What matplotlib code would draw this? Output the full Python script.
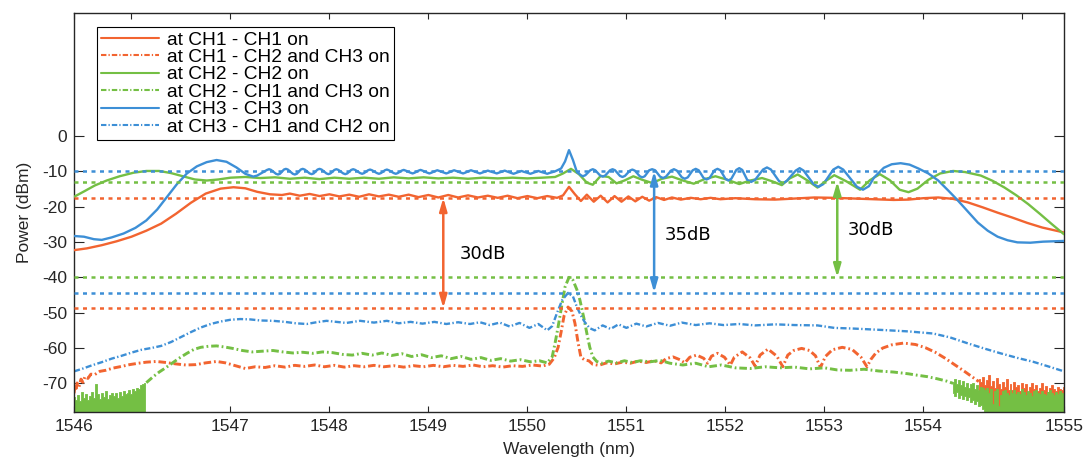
import numpy as np
import matplotlib
matplotlib.use("Agg")
import matplotlib.pyplot as plt

# ── colours / limits ──────────────────────────────────────────────────
ORANGE = "#F26430"
GREEN = "#74BF44"
BLUE = "#3D8FD6"
TEXT = "#262626"

X_LIMITS = (1545.42, 1555.42)
Y_LIMITS = (-78.1, 34.8)
WAVE_TICKS = [1547, 1548, 1549, 1550, 1551, 1552, 1553, 1554]
POWER_TICKS = [-70, -60, -50, -40, -30, -20, -10, 0]

# ── CH1: filter output with only CH1 on ───────────────────────────────
ch1_on_x = [
    1545.42, 1545.55, 1545.70, 1545.85, 1546.00, 1546.15, 1546.30, 1546.45,
    1546.60, 1546.75, 1546.90, 1547.03, 1547.15, 1547.27, 1547.40, 1547.52,
    1547.60, 1547.70, 1547.80, 1547.90, 1548.00, 1548.10, 1548.20, 1548.30,
    1548.40, 1548.50, 1548.60, 1548.70, 1548.80, 1548.90, 1549.00, 1549.10,
    1549.20, 1549.30, 1549.40, 1549.50, 1549.60, 1549.70, 1549.80, 1549.90,
    1550.00, 1550.10, 1550.20, 1550.30, 1550.36, 1550.42, 1550.48, 1550.54,
    1550.60, 1550.67, 1550.74, 1550.81, 1550.88, 1550.95, 1551.02, 1551.09,
    1551.16, 1551.23, 1551.30, 1551.38, 1551.46, 1551.55, 1551.65, 1551.75,
    1551.85, 1551.95, 1552.10, 1552.30, 1552.50, 1552.70, 1552.90, 1553.10,
    1553.30, 1553.50, 1553.70, 1553.85, 1554.00, 1554.15, 1554.30, 1554.45,
    1554.60, 1554.75, 1554.90, 1555.05, 1555.20, 1555.42,
]
ch1_on_db = [
    -32.3, -31.8, -30.9, -29.8, -28.5, -26.8, -24.8, -22.0,
    -18.9, -16.3, -14.9, -14.5, -14.8, -15.8, -16.5, -16.7,
    -16.3, -16.9, -16.4, -17.0, -16.5, -17.1, -16.6, -17.2,
    -16.5, -17.1, -16.6, -17.2, -16.6, -17.3, -16.7, -17.4,
    -16.7, -17.4, -16.8, -17.4, -16.9, -17.5, -16.9, -17.6,
    -17.0, -17.6, -17.0, -17.5, -16.8, -14.4, -16.5, -18.4,
    -16.6, -18.6, -16.9, -18.8, -17.0, -18.6, -17.1, -18.5,
    -17.2, -18.3, -17.3, -18.1, -17.4, -18.0, -17.5, -17.9,
    -17.5, -17.9, -17.6, -17.9, -18.0, -17.7, -17.4, -17.5,
    -17.7, -17.9, -18.1, -18.0, -17.6, -17.4, -17.8, -18.8,
    -20.2, -21.7, -23.1, -24.6, -25.9, -27.3,
]

# ── CH1: crosstalk with CH2 and CH3 on ────────────────────────────────
ch1_xt_x = [
    1545.42, 1545.43, 1545.44, 1545.45, 1545.47, 1545.49, 1545.51, 1545.53,
    1545.56, 1545.59, 1545.63, 1545.68, 1545.74, 1545.81, 1545.90, 1545.98,
    1546.07, 1546.15, 1546.25, 1546.35, 1546.45, 1546.55, 1546.65, 1546.75,
    1546.86, 1546.95, 1547.05, 1547.15, 1547.25, 1547.35, 1547.45, 1547.55,
    1547.65, 1547.75, 1547.85, 1547.95, 1548.05, 1548.15, 1548.25, 1548.35,
    1548.45, 1548.55, 1548.65, 1548.75, 1548.85, 1548.95, 1549.05, 1549.15,
    1549.25, 1549.35, 1549.45, 1549.55, 1549.65, 1549.75, 1549.85, 1549.95,
    1550.05, 1550.15, 1550.22, 1550.27, 1550.31, 1550.34, 1550.37, 1550.41,
    1550.45, 1550.48, 1550.51, 1550.54, 1550.58, 1550.62, 1550.66, 1550.72,
    1550.80, 1550.88, 1550.96, 1551.04, 1551.12, 1551.20, 1551.28, 1551.35,
    1551.40, 1551.47, 1551.54, 1551.59, 1551.64, 1551.71, 1551.78, 1551.82,
    1551.86, 1551.92, 1551.99, 1552.05, 1552.09, 1552.17, 1552.25, 1552.30,
    1552.35, 1552.43, 1552.52, 1552.58, 1552.63, 1552.69, 1552.77, 1552.85,
    1552.91, 1552.96, 1553.01, 1553.08, 1553.18, 1553.28, 1553.37, 1553.43,
    1553.47, 1553.52, 1553.59, 1553.68, 1553.80, 1553.92, 1554.02, 1554.12,
    1554.22, 1554.32, 1554.42, 1554.50, 1554.56,
]
ch1_xt_db = [
    -72.8, -70.6, -72.1, -69.9, -71.0, -68.8, -69.7, -68.1,
    -68.6, -67.4, -67.5, -66.6, -66.3, -65.7, -65.2, -64.7,
    -64.3, -64.0, -63.8, -64.1, -64.5, -64.8, -64.7, -64.2,
    -63.8, -64.2, -65.0, -65.8, -65.3, -65.5, -65.0, -65.4,
    -64.9, -65.2, -64.8, -65.3, -64.9, -65.4, -65.0, -65.3,
    -64.9, -65.3, -65.0, -65.4, -65.0, -65.3, -64.9, -65.3,
    -64.9, -65.2, -64.8, -65.3, -65.0, -65.4, -65.0, -65.2,
    -64.8, -65.1, -64.6, -62.8, -59.8, -55.5, -50.9, -48.4,
    -49.6, -53.0, -58.2, -62.6, -63.4, -63.6, -64.6, -64.9,
    -64.2, -64.5, -64.0, -64.3, -63.7, -64.1, -63.6, -64.2,
    -63.0, -62.5, -63.3, -64.2, -62.6, -62.0, -62.9, -64.3,
    -62.3, -61.5, -62.6, -64.8, -62.6, -61.1, -62.8, -65.1,
    -62.0, -60.3, -62.3, -65.3, -62.0, -60.7, -60.1, -60.7,
    -62.2, -65.5, -62.4, -60.5, -59.8, -60.4, -62.6, -65.3,
    -63.2, -61.4, -60.0, -59.1, -58.6, -59.0, -59.9, -61.2,
    -62.9, -64.8, -66.7, -68.3, -69.5,
]
# noisy tail of the CH1 crosstalk trace (per-sample min / max)
ch1_noise_span = (1554.56, 1555.42)
ch1_noise_top = [
    -68.8, -69.6, -68.2, -70.4, -69.0, -67.6, -70.8, -69.3, -71.2, -68.5,
    -70.1, -71.5, -69.7, -70.9, -68.9, -71.8, -70.3, -72.0, -69.5, -71.1,
    -70.6, -72.3, -69.9, -71.4, -70.2, -72.6, -71.0, -69.8, -71.7, -70.5,
    -72.1, -71.3, -70.0, -71.9, -70.7, -72.4, -71.2, -70.4, -71.6, -72.2,
    -70.9, -71.5, -72.0, -71.1,
]
ch1_noise_bottom = [
    -72.5, -73.4, -74.2, -75.0, -75.8, -76.9, -80.0, -77.8, -80.0, -78.5,
    -80.0, -80.0, -80.0, -80.0, -80.0, -80.0, -80.0, -80.0, -80.0, -80.0,
    -80.0, -80.0, -80.0, -80.0, -80.0, -80.0, -80.0, -80.0, -80.0, -80.0,
    -80.0, -80.0, -80.0, -80.0, -80.0, -80.0, -80.0, -80.0, -80.0, -80.0,
    -80.0, -80.0, -80.0, -80.0,
]

# ── CH2: filter output with only CH2 on ───────────────────────────────
ch2_on_x = [
    1545.42, 1545.52, 1545.63, 1545.75, 1545.88, 1546.02, 1546.15, 1546.28,
    1546.40, 1546.52, 1546.64, 1546.76, 1546.88, 1547.00, 1547.15, 1547.30,
    1547.45, 1547.60, 1547.75, 1547.90, 1548.05, 1548.20, 1548.35, 1548.50,
    1548.65, 1548.80, 1548.95, 1549.10, 1549.25, 1549.40, 1549.55, 1549.70,
    1549.85, 1550.00, 1550.15, 1550.28, 1550.36, 1550.44, 1550.52, 1550.60,
    1550.66, 1550.74, 1550.82, 1550.90, 1550.98, 1551.07, 1551.16, 1551.26,
    1551.36, 1551.46, 1551.57, 1551.68, 1551.79, 1551.90, 1552.02, 1552.14,
    1552.25, 1552.37, 1552.47, 1552.57, 1552.65, 1552.73, 1552.83, 1552.93,
    1553.02, 1553.10, 1553.22, 1553.36, 1553.46, 1553.56, 1553.66, 1553.76,
    1553.85, 1553.94, 1554.05, 1554.17, 1554.30, 1554.42, 1554.58, 1554.70,
    1554.82, 1554.94, 1555.06, 1555.18, 1555.30, 1555.42,
]
ch2_on_db = [
    -17.2, -15.7, -14.0, -12.6, -11.4, -10.4, -9.9, -9.9,
    -10.5, -11.4, -12.3, -12.6, -12.3, -11.8, -11.6, -11.9,
    -11.7, -12.1, -11.8, -12.2, -11.8, -12.1, -11.8, -12.1,
    -11.7, -12.0, -11.7, -12.0, -11.8, -12.1, -11.8, -12.0,
    -11.8, -12.0, -11.8, -11.6, -10.6, -9.3, -10.8, -13.2,
    -13.8, -11.3, -11.6, -13.4, -12.6, -11.4, -12.4, -13.3,
    -12.1, -11.5, -12.6, -13.5, -12.2, -11.4, -12.4, -13.6,
    -12.6, -11.9, -12.8, -13.9, -12.0, -10.9, -12.6, -14.6,
    -12.6, -11.1, -12.8, -15.2, -12.5, -10.8, -12.5, -15.2,
    -15.9, -14.9, -12.4, -10.6, -9.9, -10.2, -11.2, -12.7,
    -14.6, -16.8, -19.3, -22.1, -25.0, -27.8,
]

# ── CH2: crosstalk with CH1 and CH3 on ────────────────────────────────
ch2_xt_x = [
    1546.15, 1546.22, 1546.28, 1546.35, 1546.41, 1546.48, 1546.56, 1546.63,
    1546.70, 1546.78, 1546.86, 1546.94, 1547.02, 1547.12, 1547.22, 1547.32,
    1547.43, 1547.53, 1547.63, 1547.73, 1547.83, 1547.93, 1548.03, 1548.13,
    1548.23, 1548.33, 1548.43, 1548.53, 1548.63, 1548.73, 1548.83, 1548.93,
    1549.03, 1549.13, 1549.23, 1549.33, 1549.43, 1549.53, 1549.63, 1549.73,
    1549.83, 1549.93, 1550.03, 1550.12, 1550.20, 1550.25, 1550.28, 1550.31,
    1550.35, 1550.38, 1550.42, 1550.46, 1550.50, 1550.53, 1550.57, 1550.60,
    1550.63, 1550.66, 1550.70, 1550.75, 1550.82, 1550.90, 1550.98, 1551.06,
    1551.14, 1551.24, 1551.34, 1551.44, 1551.57, 1551.70, 1551.83, 1551.96,
    1552.10, 1552.25, 1552.40, 1552.55, 1552.70, 1552.85, 1553.00, 1553.13,
    1553.26, 1553.40, 1553.55, 1553.70, 1553.85, 1553.94, 1554.04, 1554.14,
    1554.24, 1554.30,
]
ch2_xt_db = [
    -69.8, -68.1, -66.8, -65.5, -64.3, -62.9, -61.5, -60.4,
    -59.8, -59.5, -59.4, -59.7, -60.1, -60.7, -61.1, -60.9,
    -60.7, -61.1, -61.4, -61.2, -61.5, -61.1, -61.3, -61.8,
    -62.0, -61.5, -62.0, -61.4, -62.1, -61.6, -62.4, -61.9,
    -62.7, -62.2, -63.0, -62.4, -63.2, -62.7, -63.5, -63.0,
    -63.7, -63.3, -63.9, -63.6, -64.2, -62.5, -58.5, -54.0,
    -47.5, -42.7, -40.0, -40.8, -43.5, -46.4, -51.5, -55.8,
    -59.8, -62.5, -63.8, -64.3, -63.7, -64.2, -63.6, -64.1,
    -63.6, -63.9, -63.5, -64.3, -64.8, -64.3, -65.3, -64.8,
    -65.6, -65.8, -65.3, -65.6, -65.4, -65.9, -65.6, -66.2,
    -66.3, -66.0, -66.5, -66.8, -67.3, -67.7, -68.1, -68.7,
    -69.4, -70.0,
]
# noise floor at both ends of the CH2 crosstalk trace (per-sample min / max)
ch2_noise_left_span = (1545.42, 1546.14)
ch2_noise_left_top = [
    -73.8, -74.6, -73.2, -75.0, -72.5, -74.1, -73.0, -74.8, -73.6, -72.4,
    -74.0, -70.1, -73.1, -74.4, -72.8, -73.9, -72.2, -74.3, -73.3, -72.6,
    -73.6, -72.8, -74.0, -72.4, -73.5, -72.1, -73.0, -72.6, -71.8, -72.9,
    -71.5, -72.2, -71.2, -71.6, -70.6, -70.3, -69.8,
]
ch2_noise_right_span = (1554.30, 1555.42)
ch2_noise_right_top = [
    -69.5, -68.8, -70.2, -69.1, -70.6, -69.4, -70.9, -69.8, -71.2, -70.3,
    -70.0, -71.5, -70.4, -71.8, -70.9, -71.3, -72.0, -71.2, -72.6, -71.7,
    -75.8, -72.1, -71.5, -76.5, -73.4, -72.2, -71.9, -72.7, -73.3, -72.0,
    -72.6, -71.8, -73.1, -72.4, -72.9, -71.6, -72.5, -73.2, -72.1, -72.8,
    -73.5, -72.3, -71.9, -72.7, -73.0, -72.2, -72.9, -73.4, -72.5, -72.0,
    -72.8, -73.3, -72.4, -72.9, -72.1, -72.6, -73.0,
]
ch2_noise_right_bottom = [
    -72.8, -73.6, -72.5, -74.1, -73.2, -74.4, -73.5, -74.8, -73.9, -75.2,
    -74.6, -75.8, -75.1, -76.5, -76.0, -77.2, -80.0, -80.0, -80.0, -80.0,
    -80.0, -80.0, -80.0, -80.0, -80.0, -80.0, -80.0, -80.0, -80.0, -80.0,
    -80.0, -80.0, -80.0, -80.0, -80.0, -80.0, -80.0, -80.0, -80.0, -80.0,
    -80.0, -80.0, -80.0, -80.0, -80.0, -80.0, -80.0, -80.0, -80.0, -80.0,
    -80.0, -80.0, -80.0, -80.0, -80.0, -80.0, -80.0,
]

# ── CH3: filter output with only CH3 on ───────────────────────────────
ch3_on_x = [
    # rising edge
    1545.42, 1545.52, 1545.62, 1545.70, 1545.80, 1545.92, 1546.04, 1546.15,
    1546.26, 1546.36, 1546.46, 1546.56, 1546.66, 1546.76, 1546.86, 1546.96,
    1547.06, 1547.15, 1547.23, 1547.27,
    # passband ripple below CH2
    1547.37, 1547.39, 1547.41, 1547.46, 1547.48, 1547.50, 1547.54, 1547.56,
    1547.58, 1547.63, 1547.65, 1547.67, 1547.71, 1547.73, 1547.75, 1547.80,
    1547.82, 1547.84, 1547.88, 1547.90, 1547.92, 1547.97, 1547.99, 1548.01,
    1548.05, 1548.07, 1548.09, 1548.14, 1548.16, 1548.18, 1548.22, 1548.24,
    1548.26, 1548.31, 1548.33, 1548.35, 1548.39, 1548.41, 1548.43, 1548.48,
    1548.50, 1548.52, 1548.56, 1548.58, 1548.60, 1548.65, 1548.67, 1548.69,
    1548.73, 1548.75, 1548.77, 1548.82, 1548.84, 1548.86, 1548.90, 1548.92,
    1548.94, 1548.99, 1549.01, 1549.03, 1549.07, 1549.09, 1549.11, 1549.16,
    1549.18, 1549.20, 1549.24, 1549.26, 1549.28, 1549.33, 1549.35, 1549.37,
    1549.41, 1549.43, 1549.45, 1549.50, 1549.52, 1549.54, 1549.58, 1549.60,
    1549.62, 1549.67, 1549.69, 1549.71, 1549.75, 1549.77, 1549.79, 1549.84,
    1549.86, 1549.88, 1549.92, 1549.94, 1549.96, 1550.01, 1550.03, 1550.05,
    1550.09, 1550.11, 1550.13, 1550.18, 1550.20, 1550.22,
    # CH2 leakage spike
    1550.28, 1550.34, 1550.38, 1550.42, 1550.46, 1550.50,
    # passband ripple above CH2
    1550.54, 1550.56, 1550.585, 1550.635, 1550.66, 1550.685, 1550.735,
    1550.76, 1550.785, 1550.835, 1550.86, 1550.885, 1550.935, 1550.96,
    1550.985, 1551.035, 1551.06, 1551.085, 1551.135, 1551.16, 1551.185,
    1551.23, 1551.26, 1551.29, 1551.34, 1551.37, 1551.40, 1551.45, 1551.48,
    1551.51, 1551.56, 1551.59, 1551.62, 1551.67, 1551.70, 1551.73, 1551.78,
    1551.81, 1551.84, 1551.89, 1551.92, 1551.95, 1552.00, 1552.03, 1552.06,
    1552.11, 1552.14, 1552.17, 1552.22, 1552.26, 1552.30, 1552.38, 1552.42,
    1552.46, 1552.54, 1552.58, 1552.62, 1552.71, 1552.75, 1552.79, 1552.89,
    1552.94, 1552.99, 1553.09, 1553.14, 1553.19, 1553.33, 1553.39, 1553.45,
    # edge hump and roll-off
    1553.50, 1553.60, 1553.68, 1553.77, 1553.86, 1553.95, 1554.05, 1554.15,
    1554.25, 1554.34, 1554.45, 1554.55, 1554.65, 1554.75, 1554.85, 1554.95,
    1555.08, 1555.21, 1555.32, 1555.42,
]
ch3_on_db = [
    -28.3, -28.5, -29.2, -29.4, -28.7, -27.6, -26.0, -23.9,
    -20.8, -17.2, -13.6, -10.6, -8.6, -7.4, -6.8, -7.3,
    -8.9, -10.7, -11.5, -11.2,
    -9.6, -9.4, -9.6, -10.7, -10.9, -10.7, -9.5, -9.3,
    -9.5, -10.7, -10.9, -10.7, -9.5, -9.3, -9.5, -10.6,
    -10.8, -10.6, -9.5, -9.3, -9.5, -10.6, -10.8, -10.6,
    -9.6, -9.4, -9.6, -10.6, -10.8, -10.6, -9.6, -9.4,
    -9.6, -10.5, -10.7, -10.5, -9.7, -9.5, -9.7, -10.5,
    -10.7, -10.5, -9.7, -9.5, -9.7, -10.5, -10.7, -10.5,
    -9.8, -9.6, -9.8, -10.4, -10.6, -10.4, -9.8, -9.6,
    -9.8, -10.4, -10.6, -10.4, -9.9, -9.7, -9.9, -10.4,
    -10.6, -10.4, -9.9, -9.7, -9.9, -10.4, -10.6, -10.4,
    -9.9, -9.7, -9.9, -10.4, -10.6, -10.4, -10.0, -9.8,
    -10.0, -10.4, -10.6, -10.4, -10.0, -9.8, -10.0, -10.5,
    -10.7, -10.5, -10.1, -9.9, -10.1, -10.5, -10.7, -10.5,
    -10.1, -9.9, -10.1, -10.5, -10.7, -10.5,
    -10.0, -9.2, -7.2, -4.0, -6.8, -10.2,
    -11.1, -11.4, -11.1, -9.7, -9.4, -9.7, -11.2,
    -11.5, -11.2, -9.7, -9.4, -9.7, -11.3, -11.6,
    -11.3, -9.8, -9.5, -9.8, -11.4, -11.7, -11.4,
    -9.7, -9.4, -9.7, -11.5, -11.9, -11.5, -9.8, -9.4,
    -9.8, -11.7, -12.1, -11.7, -9.7, -9.3, -9.7, -11.9,
    -12.3, -11.9, -9.7, -9.3, -9.7, -12.1, -12.6, -12.1,
    -9.6, -9.1, -9.6, -12.4, -13.0, -12.4, -9.5, -8.9,
    -9.5, -12.7, -13.4, -12.7, -9.8, -9.1, -9.8, -13.6,
    -14.4, -13.6, -9.5, -8.7, -9.5, -14.4, -15.2, -14.2,
    -11.8, -9.0, -8.0, -7.7, -8.1, -9.2, -10.6, -12.6,
    -15.4, -18.0, -21.4, -24.5, -26.8, -28.5, -29.5, -30.1,
    -30.2, -29.9, -29.8, -29.7,
]

# ── CH3: crosstalk with CH1 and CH2 on ────────────────────────────────
ch3_xt_x = [
    1545.42, 1545.50, 1545.60, 1545.70, 1545.80, 1545.90, 1546.00, 1546.10,
    1546.20, 1546.30, 1546.40, 1546.50, 1546.60, 1546.70, 1546.80, 1546.90,
    1547.00, 1547.10, 1547.20, 1547.30, 1547.43, 1547.55, 1547.66, 1547.77,
    1547.87, 1547.97, 1548.07, 1548.17, 1548.31, 1548.45, 1548.58, 1548.70,
    1548.82, 1548.94, 1549.06, 1549.18, 1549.30, 1549.42, 1549.52, 1549.62,
    1549.72, 1549.82, 1549.92, 1550.02, 1550.11, 1550.20, 1550.25, 1550.30,
    1550.35, 1550.41, 1550.46, 1550.50, 1550.54, 1550.58, 1550.63, 1550.68,
    1550.76, 1550.84, 1550.92, 1551.00, 1551.10, 1551.20, 1551.32, 1551.44,
    1551.56, 1551.70, 1551.84, 1551.98, 1552.14, 1552.30, 1552.50, 1552.70,
    1552.93, 1553.10, 1553.30, 1553.59, 1553.85, 1554.10, 1554.27, 1554.44,
    1554.61, 1554.78, 1554.95, 1555.11, 1555.25, 1555.42,
]
ch3_xt_db = [
    -66.6, -65.9, -64.9, -64.0, -63.0, -62.2, -61.3, -60.5,
    -60.0, -59.4, -58.3, -56.9, -55.5, -54.2, -53.2, -52.5,
    -52.0, -51.8, -51.9, -52.2, -52.3, -52.6, -53.0, -53.2,
    -52.7, -52.3, -52.6, -52.9, -52.3, -52.8, -52.3, -53.0,
    -52.6, -53.1, -52.6, -53.2, -52.7, -53.2, -52.7, -53.5,
    -52.8, -53.9, -52.9, -54.3, -53.2, -55.0, -53.8, -50.0,
    -46.5, -44.4, -45.4, -48.4, -50.8, -52.7, -54.4, -55.0,
    -53.6, -54.6, -53.3, -54.3, -53.1, -53.9, -52.9, -53.7,
    -52.8, -53.5, -53.0, -53.5, -53.2, -53.6, -53.3, -53.5,
    -53.6, -54.3, -54.5, -54.9, -55.3, -55.9, -57.0, -58.6,
    -60.1, -61.5, -62.8, -63.9, -65.1, -66.6,
]

# ── reference levels and isolation markers ────────────────────────────
ref_levels = [-17.5, -48.7, -12.9, -40.0, -10.0, -44.3]
ref_colors = [ORANGE, ORANGE, GREEN, GREEN, BLUE, BLUE]

iso_wavelengths = [1549.15, 1551.28, 1553.13]
iso_top = [-17.5, -10.0, -12.9]
iso_bottom = [-48.7, -44.3, -40.0]
iso_labels = ["30dB", "35dB", "30dB"]
iso_label_pos = [(1549.32, -33.5), (1551.39, -28.1), (1553.24, -26.5)]
iso_colors = [ORANGE, BLUE, GREEN]

legend_labels = [
    "at CH1 - CH1 on",
    "at CH1 - CH2 and CH3 on",
    "at CH2 - CH2 on",
    "at CH2 - CH1 and CH3 on",
    "at CH3 - CH3 on",
    "at CH3 - CH1 and CH2 on",
]

DASH_DOT = (0, (2.6, 1.0, 0.6, 1.0))
SOLID = dict(lw=1.7, solid_joinstyle="round", solid_capstyle="round", zorder=3)
XTALK = dict(ls=DASH_DOT, dash_joinstyle="round", zorder=2)


def draw_noise(ax, span, tops, bottoms, color):
    """Fill a noisy stretch between its per-sample min and max."""
    xs = np.linspace(span[0], span[1], len(tops))
    ax.fill_between(xs, bottoms, tops, step="mid", color=color,
                    linewidth=0.6, edgecolor=color, zorder=2)


def main() -> None:
    plt.rcParams["font.family"] = ["Liberation Sans", "DejaVu Sans"]
    plt.rcParams["axes.unicode_minus"] = False

    fig = plt.figure(figsize=(10.89, 4.61), dpi=100)
    ax = fig.add_axes([0.068, 0.1063, 0.909, 0.8655])

    # ── traces (same order as the legend) ─────────────────────────────
    handles = []
    h, = ax.plot(ch1_on_x, ch1_on_db, color=ORANGE, **SOLID)
    handles.append(h)
    h, = ax.plot(ch1_xt_x, ch1_xt_db, color=ORANGE, lw=2.1, **XTALK)
    handles.append(h)
    draw_noise(ax, ch1_noise_span, ch1_noise_top, ch1_noise_bottom, ORANGE)

    h, = ax.plot(ch2_on_x, ch2_on_db, color=GREEN, **SOLID)
    handles.append(h)
    h, = ax.plot(ch2_xt_x, ch2_xt_db, color=GREEN, lw=2.1, **XTALK)
    handles.append(h)
    left_floor = [-80.0] * len(ch2_noise_left_top)
    draw_noise(ax, ch2_noise_left_span, ch2_noise_left_top, left_floor, GREEN)
    draw_noise(ax, ch2_noise_right_span, ch2_noise_right_top,
               ch2_noise_right_bottom, GREEN)

    h, = ax.plot(ch3_on_x, ch3_on_db, color=BLUE, **SOLID)
    handles.append(h)
    h, = ax.plot(ch3_xt_x, ch3_xt_db, color=BLUE, lw=1.7, **XTALK)
    handles.append(h)

    # ── dotted reference levels ───────────────────────────────────────
    for level, color in zip(ref_levels, ref_colors):
        ax.axhline(level, color=color, lw=1.8, ls=(0, (1.6, 1.8)), zorder=4)

    # ── isolation arrows ──────────────────────────────────────────────
    for x, top, bottom, label, pos, color in zip(
        iso_wavelengths, iso_top, iso_bottom, iso_labels, iso_label_pos, iso_colors
    ):
        ax.annotate(
            "", xy=(x, bottom), xytext=(x, top),
            arrowprops=dict(
                arrowstyle="<|-|>,head_length=0.55,head_width=0.16",
                mutation_scale=14, lw=1.8, color=color,
                shrinkA=0, shrinkB=0,
            ),
            zorder=5,
        )
        ax.text(pos[0], pos[1], label, fontsize=13, family="DejaVu Sans",
                color="black", ha="left", va="center", zorder=5)

    # ── axes, ticks ───────────────────────────────────────────────────
    ax.set_xlim(*X_LIMITS)
    ax.set_ylim(*Y_LIMITS)

    # end labels sit at the axis edges, the 1546/1555 marks are minor ticks
    ax.set_xticks([X_LIMITS[0]] + WAVE_TICKS + [X_LIMITS[1]])
    ax.set_xticklabels(["1546"] + [str(t) for t in WAVE_TICKS] + ["1555"])
    ax.set_xticks([1546, 1555], minor=True)
    ax.set_yticks(POWER_TICKS)

    ax.tick_params(axis="both", which="both", direction="in",
                   top=True, right=True, labelsize=12.5,
                   colors=TEXT, labelcolor=TEXT)
    ax.tick_params(axis="x", which="both", length=4.5, width=0.8, pad=5)
    ax.tick_params(axis="y", which="both", length=7, width=0.8, pad=5)
    for spine in ax.spines.values():
        spine.set_linewidth(1.0)
        spine.set_color(TEXT)

    ax.set_xlabel("Wavelength (nm)", fontsize=12.5, color=TEXT, labelpad=6)
    ax.set_ylabel("Power (dBm)", fontsize=12.5, color=TEXT, labelpad=7)

    leg = ax.legend(
        handles, legend_labels,
        loc="upper left", bbox_to_anchor=(0.023, 0.965), borderaxespad=0,
        fontsize=13.8, frameon=True, fancybox=False, framealpha=1,
        edgecolor="black", handlelength=3.0, handletextpad=0.45,
        labelspacing=0.0, borderpad=0.22,
    )
    leg.get_frame().set_linewidth(0.8)
    for line in leg.get_lines():
        line.set_linewidth(1.5)

    fig.savefig("out.png", dpi=100)


if __name__ == "__main__":
    main()
